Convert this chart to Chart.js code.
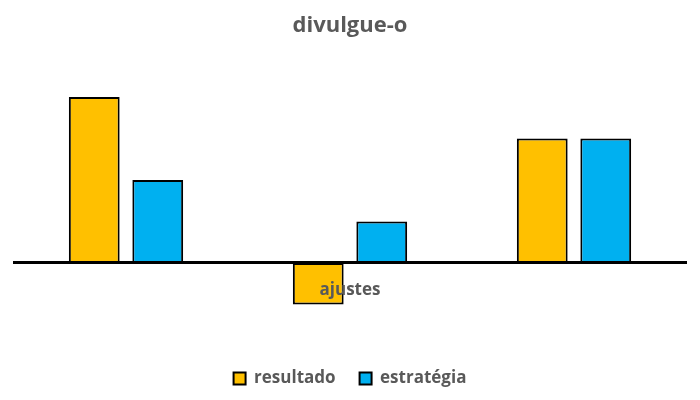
<!DOCTYPE html>
<html>
<head>
<meta charset="utf-8">
<script src="https://cdn.jsdelivr.net/npm/chart.js@4"></script>
<style>
  html, body { margin: 0; padding: 0; background: #fff; }
  #wrap { width: 700px; height: 400px; }
</style>
</head>
<body>
<div id="wrap"><canvas id="chart"></canvas></div>
<script>
// categories (only the middle one carries a label)
const categories = ['', 'ajustes', ''];
const resultado = [4, -1, 3];
const estrategia = [2, 1, 3];
const yMin = -2;
const yMax = 5;

const grey = '#595959';
const fontFamily = '"Open Sans", "Noto Sans", sans-serif';

const ctx = document.getElementById('chart').getContext('2d');
new Chart(ctx, {
    type: 'bar',
    data: {
        labels: categories,
        datasets: [{
            label: 'resultado',
            data: resultado,
            backgroundColor: '#FFC000',
            borderColor: '#000',
            borderWidth: 2,
            borderSkipped: false
        }, {
            label: 'estratégia',
            data: estrategia,
            backgroundColor: '#00B0F0',
            borderColor: '#000',
            borderWidth: 2,
            borderSkipped: false
        }]
    },
    options: {
        responsive: true,
        maintainAspectRatio: false,
        animation: false,
        datasets: {
            bar: { categoryPercentage: 0.567, barPercentage: 0.8 }
        },
        layout: { padding: { left: 14, right: 14, top: 0, bottom: 3 } },
        plugins: {
            title: {
                display: true,
                text: 'divulgue-o',
                color: grey,
                font: { family: fontFamily, size: 22, weight: 'bold' },
                padding: { top: 13, bottom: 16 }
            },
            legend: {
                position: 'bottom',
                labels: {
                    color: grey,
                    font: { family: fontFamily, size: 17, weight: 'bold' },
                    boxWidth: 12,
                    boxHeight: 12,
                    padding: 24
                }
            },
            tooltip: { enabled: false }
        },
        scales: {
            x: {
                position: { y: 0 },
                z: 1,
                grid: { display: false, drawTicks: false },
                border: { color: '#000', width: 3, z: 1 },
                ticks: {
                    z: 1,
                    color: grey,
                    padding: 17,
                    font: { family: fontFamily, size: 17, weight: 'bold' }
                }
            },
            y: {
                display: false,
                min: yMin,
                max: yMax
            }
        }
    }
});
</script>
</body>
</html>
